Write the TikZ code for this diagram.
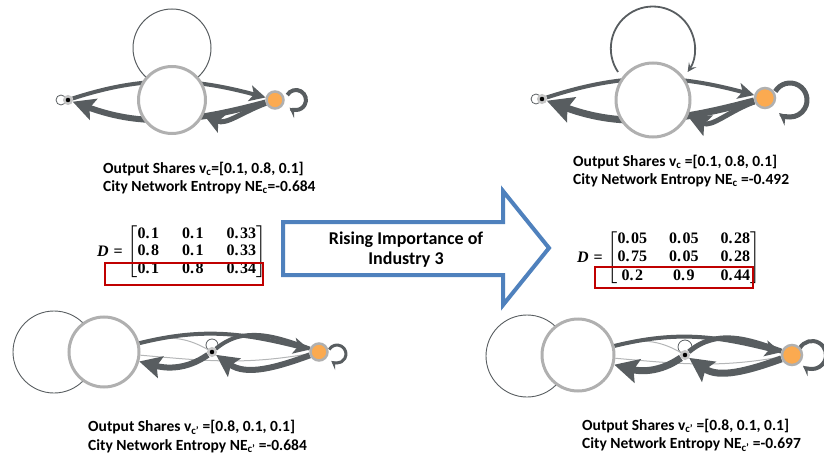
\documentclass[tikz,border=0pt]{standalone}
\usepackage[no-math]{fontspec}
\setmainfont{Carlito}
\newfontfamily\matfont{Liberation Serif}
\usepackage{amsmath}
\usetikzlibrary{arrows.meta,calc,backgrounds}

\definecolor{edgegray}{RGB}{88,93,96}
\definecolor{ringgray}{RGB}{176,176,176}
\definecolor{indorange}{RGB}{251,170,80}
\definecolor{arrowblue}{RGB}{79,129,189}
\definecolor{boxred}{RGB}{192,0,0}

% matrix entries
\newcommand{\mv}[1]{\text{\matfont\bfseries #1}}
\newcommand{\mD}{\text{\matfont\bfseries\itshape D}\mathrel{\text{\matfont\bfseries =}}}

% distance matrices
\newsavebox{\matboxbefore}
\newsavebox{\matboxafter}

\begin{document}
\sbox{\matboxbefore}{\fontsize{16}{17.5}\selectfont$\setlength\arraycolsep{11.5pt}\mD \begin{bmatrix}\mv{0.\kern1.5pt1} & \mv{0.\kern1.5pt1} & \mv{0.\kern1.5pt33}\\ \mv{0.\kern1.5pt8} & \mv{0.\kern1.5pt1} & \mv{0.\kern1.5pt33}\\ \mv{0.\kern1.5pt1} & \mv{0.\kern1.5pt8} & \mv{0.\kern1.5pt34}\end{bmatrix}$}%
\sbox{\matboxafter}{\fontsize{16}{18.5}\selectfont$\setlength\arraycolsep{11pt}\mD \begin{bmatrix}\mv{0.\kern1.5pt05} & \mv{0.\kern1.5pt05} & \mv{0.\kern1.5pt28}\\ \mv{0.\kern1.5pt75} & \mv{0.\kern1.5pt05} & \mv{0.\kern1.5pt28}\\ \mv{0.\kern1.5pt2} & \mv{0.\kern1.5pt9} & \mv{0.\kern1.5pt44}\end{bmatrix}$}%
\begin{tikzpicture}[x=1pt,y=1pt,
	linkedge/.style={draw=edgegray, line width=#1},
	thinedge/.style={draw=edgegray!45, line width=1pt},
	loopline/.style={draw=edgegray, line width=#1},
	headarrow/.style={-{Stealth[length=#1,width=#1,inset=4pt]}},
	bignode/.style={circle, draw=ringgray, line width=3pt, fill=white, inner sep=0pt, minimum size=#1},
	blacknode/.style={circle, draw=gray!45, line width=2.5pt, fill=black, inner sep=0pt, minimum size=7.5pt},
	orangenode/.style={circle, draw=ringgray, line width=2.5pt, fill=indorange, inner sep=0pt, minimum size=#1},
	captext/.style={font=\fontsize{15.5}{18.5}\selectfont\bfseries, anchor=base west, inner sep=0pt},
	mattext/.style={anchor=west, inner sep=0pt},
	redbox/.style={draw=boxred, line width=2.5pt}]

	\useasboundingbox (0,0) rectangle (824,-457);

	% city c, before
	\node[bignode=67] (bigTL) at (172,-100) {};
	\node[blacknode] (blackTL) at (68,-100) {};
	\node[orangenode=17] (orangeTL) at (275,-100) {};
	% city c, after
	\node[bignode=74] (bigTR) at (653,-100) {};
	\node[blacknode] (blackTR) at (542,-99) {};
	\node[orangenode=20] (orangeTR) at (765,-98) {};
	% city c', before
	\node[bignode=70] (bigBL) at (104,-352) {};
	\node[blacknode] (blackBL) at (212,-352) {};
	\node[orangenode=17] (orangeBL) at (319,-352) {};
	% city c', after
	\node[bignode=72] (bigBR) at (578,-355) {};
	\node[blacknode] (blackBR) at (685,-355) {};
	\node[orangenode=20] (orangeBR) at (792,-355) {};

	\begin{pgfonlayer}{background}
		% links, city c before
		\draw[loopline=1pt] ($(bigTL)+(0,52)$) circle (39);
		\draw[loopline=0.8pt] ($(blackTL)+(-7,0)$) circle (5);
		\draw[linkedge=4pt, headarrow=16pt] (blackTL) to[out=18,in=165] (orangeTL);
		\draw[linkedge=6pt, headarrow=22pt] (orangeTL) to[out=195,in=-20] (blackTL);
		\draw[linkedge=5pt, headarrow=20pt] (orangeTL) to[out=200,in=-25] (bigTL);
		\draw[loopline=4pt, headarrow=10pt] ($(orangeTL)+(12.3,5)$) arc[start angle=150, end angle=-130, radius=10];

		% links, city c after
		\draw[loopline=1.8pt, headarrow=9pt] ($(bigTR)+(-35,28)$) arc[start angle=214, end angle=-34, radius=42];
		\draw[loopline=0.8pt] ($(blackTR)+(-6,0)$) circle (5);
		\draw[linkedge=4pt, headarrow=16pt] (blackTR) to[out=18,in=165] (orangeTR);
		\draw[linkedge=7pt, headarrow=26pt] (orangeTR) to[out=195,in=-20] (blackTR);
		\draw[linkedge=5pt, headarrow=22pt] (orangeTR) to[out=200,in=-25] (bigTR);
		\draw[loopline=5pt, headarrow=12pt] ($(orangeTR)+(10.3,6.5)$) arc[start angle=150, end angle=-130, radius=17];

		% links, city c' before
		\draw[loopline=0.9pt] ($(bigBL)+(-50,0)$) circle (41);
		\draw[loopline=0.8pt] ($(blackBL)+(0,7)$) circle (6);
		\draw[thinedge] (bigBL) to[out=-5,in=190] (orangeBL);
		\draw[thinedge] (bigBL) to[out=15,in=150] (blackBL);
		\draw[linkedge=4pt, headarrow=16pt] (bigBL) to[out=14,in=166] (orangeBL);
		\draw[linkedge=4pt] (blackBL) to[out=40,in=160] (orangeBL);
		\draw[linkedge=6pt, headarrow=22pt] (orangeBL) to[out=200,in=-35] (blackBL);
		\draw[linkedge=6pt, headarrow=22pt] (blackBL) to[out=215,in=-15] (bigBL);
		\draw[loopline=3pt, headarrow=9pt] ($(orangeBL)+(10.2,2.5)$) arc[start angle=150, end angle=-130, radius=9];

		% links, city c' after
		\draw[loopline=0.9pt] ($(bigBR)+(-51,-1)$) circle (41);
		\draw[loopline=0.8pt] ($(blackBR)+(0,8)$) circle (7);
		\draw[thinedge] (bigBR) to[out=-5,in=190] (orangeBR);
		\draw[thinedge] (bigBR) to[out=15,in=150] (blackBR);
		\draw[linkedge=4pt, headarrow=16pt] (bigBR) to[out=14,in=166] (orangeBR);
		\draw[linkedge=5pt] (blackBR) to[out=40,in=160] (orangeBR);
		\draw[linkedge=7pt, headarrow=24pt] (orangeBR) to[out=200,in=-35] (blackBR);
		\draw[linkedge=7pt, headarrow=24pt] (blackBR) to[out=215,in=-15] (bigBR);
		\draw[loopline=4pt, headarrow=10pt] ($(orangeBR)+(7.9,7)$) arc[start angle=150, end angle=-130, radius=14];
	\end{pgfonlayer}

	% captions
	\node[captext] (sharesTL) at (103,-173.3) {Output Shares v\textsubscript{c}=[0.1, 0.8, 0.1]};
	\node[captext] (entropyTL) at (103,-191.7) {City Network Entropy NE\textsubscript{c}=-0.684};
	\node[captext] (sharesTR) at (573,-166.7) {Output Shares v\textsubscript{c} =[0.1, 0.8, 0.1]};
	\node[captext] (entropyTR) at (573,-184.3) {City Network Entropy NE\textsubscript{c} =-0.492};
	\node[captext] (sharesBL) at (88,-431.7) {Output Shares v\textsubscript{c'} =[0.8, 0.1, 0.1]};
	\node[captext] (entropyBL) at (88,-450) {City Network Entropy NE\textsubscript{c'} =-0.684};
	\node[captext] (sharesBR) at (582,-430) {Output Shares v\textsubscript{c'} =[0.8, 0.1, 0.1]};
	\node[captext] (entropyBR) at (582,-448.3) {City Network Entropy NE\textsubscript{c'} =-0.697};

	% distance matrices
	\node[mattext] (matL) at (97,-252) {\usebox{\matboxbefore}};
	\node[mattext] (matR) at (577,-258) {\usebox{\matboxafter}};
	\draw[redbox] (105,-263) rectangle (263,-285);
	\draw[redbox] (595,-267) rectangle (753,-288);

	% block arrow
	\draw[arrowblue, line width=4pt, fill=white] (283,-222) -- (503,-222) -- (503,-191) -- (549,-248) -- (503,-305) -- (503,-275) -- (283,-275) -- cycle;
	\node[font=\fontsize{18}{20}\selectfont\bfseries, align=center] (rising) at (406,-250) {Rising Importance of\\Industry 3};

\end{tikzpicture}
\end{document}
